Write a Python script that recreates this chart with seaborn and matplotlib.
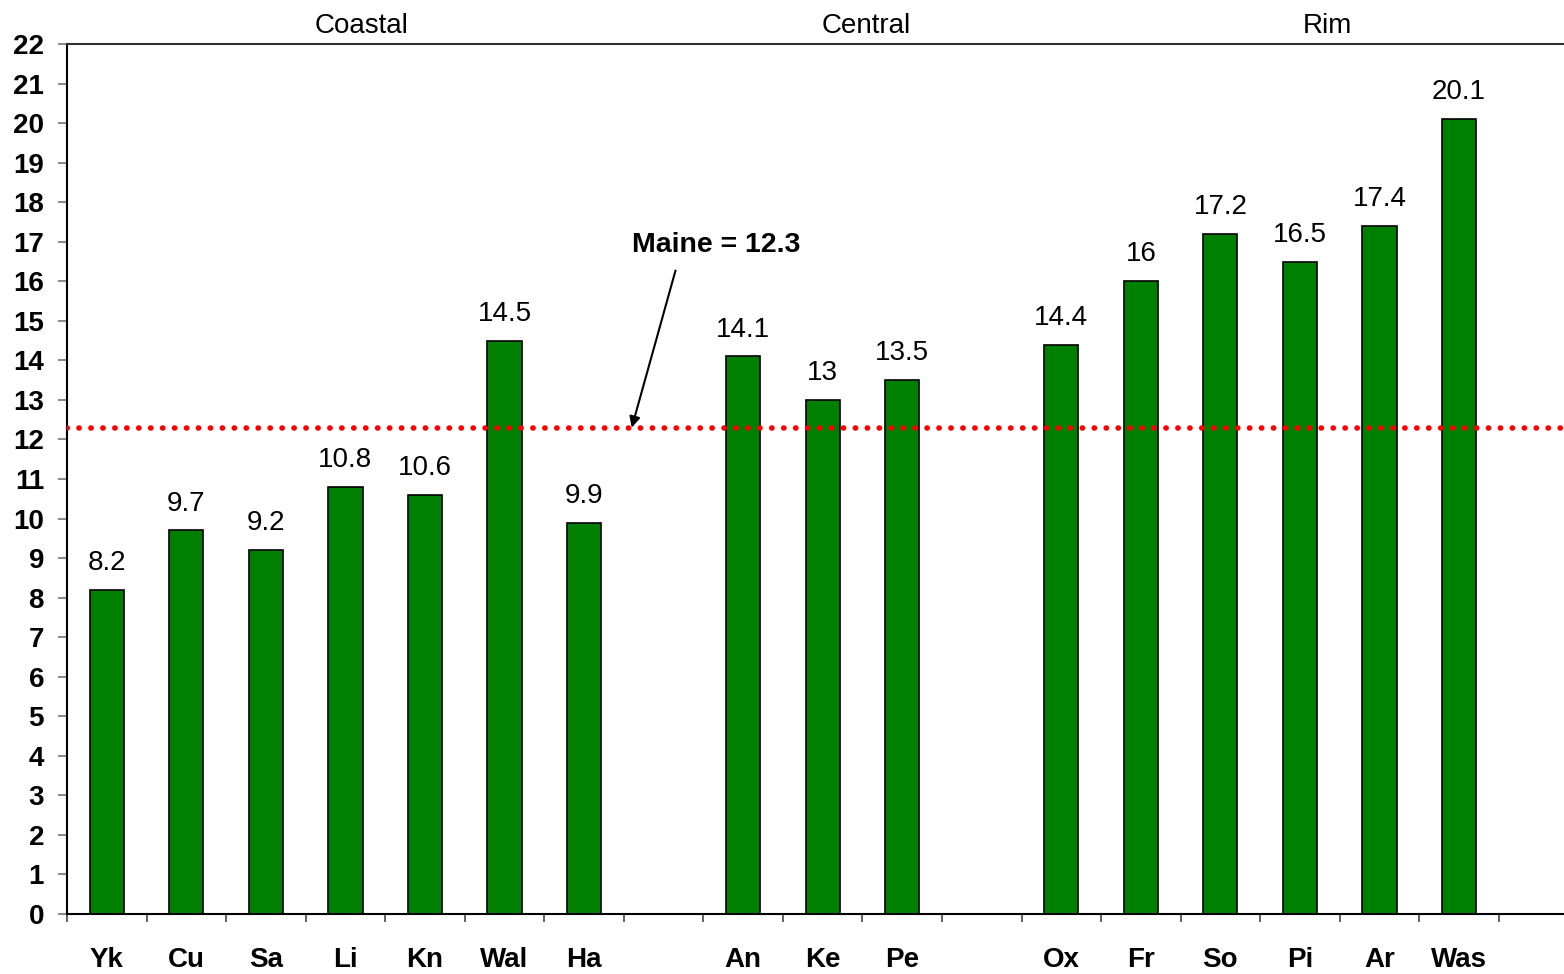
import matplotlib
matplotlib.use("Agg")
import numpy as np
import pandas as pd
import matplotlib.pyplot as plt
import seaborn as sns

# Rates by county, grouped by region
coastal_names = ["Yk", "Cu", "Sa", "Li", "Kn", "Wal", "Ha"]
coastal_values = [8.2, 9.7, 9.2, 10.8, 10.6, 14.5, 9.9]
central_names = ["An", "Ke", "Pe"]
central_values = [14.1, 13.0, 13.5]
rim_names = ["Ox", "Fr", "So", "Pi", "Ar", "Was"]
rim_values = [14.4, 16.0, 17.2, 16.5, 17.4, 20.1]
region_names = ["Coastal", "Central", "Rim"]
maine_rate = 12.3
y_ticks = list(range(0, 23))

# Lay the counties out in slots, leaving one empty slot after each region
rows = []
slot = 0
for region, names, values in zip(region_names,
                                 [coastal_names, central_names, rim_names],
                                 [coastal_values, central_values, rim_values]):
    for name, value in zip(names, values):
        rows.append({"county": name, "rate": value, "region": region, "slot": slot})
        slot += 1
    slot += 1
n_slots = slot
df = pd.DataFrame(rows)

sns.set_theme(style="white")
plt.rcParams["font.family"] = ["Liberation Sans", "DejaVu Sans"]
plt.rcParams["text.color"] = "black"
plt.rcParams["xtick.labelcolor"] = "black"
plt.rcParams["ytick.labelcolor"] = "black"

W, H = 1564, 974
fig = plt.figure(figsize=(W / 100, H / 100), dpi=100)
ax = fig.add_axes([67 / W, 60 / H, (W - 67) / W, 870 / H])

sns.barplot(data=df, x="slot", y="rate", native_scale=True, width=0.43,
            color="#008000", saturation=1, edgecolor="black", linewidth=1.2,
            errorbar=None, ax=ax)

ax.bar_label(ax.containers[0], labels=[f"{v:g}" for v in df["rate"]],
             padding=10, fontsize=20, color="black")

# Statewide reference line (round dots)
ax.axhline(maine_rate, color="#FF0000", lw=4.0, linestyle=(0, (0.05, 2.1)),
           dash_capstyle="round", zorder=3)
ax.annotate(f"Maine = {maine_rate:g}", xy=(6.60, maine_rate), xytext=(7.66, 16.92),
            ha="center", va="center", fontsize=20.5, fontweight="bold",
            color="black",
            arrowprops=dict(arrowstyle="-|>", color="black", lw=1.5,
                            mutation_scale=16, relpos=(0.28, 0.0),
                            shrinkA=7, shrinkB=0))

# Region headings above the frame
for name, fx in zip(region_names, [0.197, 0.534, 0.842]):
    ax.annotate(name, xy=(fx, 1.0), xycoords="axes fraction",
                xytext=(0, 13), textcoords="offset points",
                ha="center", va="center", fontsize=20, color="black")

ax.set_xlim(-0.5, n_slots - 0.68)
ax.set_ylim(0, 22)
ax.set_xlabel("")
ax.set_ylabel("")

# Slot boundaries as major ticks, county names on minor ticks
ax.set_xticks(np.arange(n_slots) - 0.5)
ax.set_xticklabels([])
ax.set_xticks(df["slot"], minor=True)
ax.set_xticklabels(df["county"], minor=True, fontsize=20, fontweight="bold")
ax.tick_params(axis="x", which="major", direction="out", length=6, width=1.3,
               color="#555555", bottom=True)
ax.tick_params(axis="x", which="minor", length=0, pad=24)

ax.set_yticks(y_ticks)
ax.set_yticklabels([str(t) for t in y_ticks], fontsize=20, fontweight="bold")
ax.tick_params(axis="y", direction="out", length=6.5, width=1.3,
               color="#808080", pad=10, left=True)

for side in ["left", "bottom"]:
    ax.spines[side].set_color("black")
    ax.spines[side].set_linewidth(1.5)
ax.spines["top"].set_color("#333333")
ax.spines["top"].set_linewidth(1.5)
ax.spines["right"].set_visible(False)

fig.savefig("out.png", dpi=100)
